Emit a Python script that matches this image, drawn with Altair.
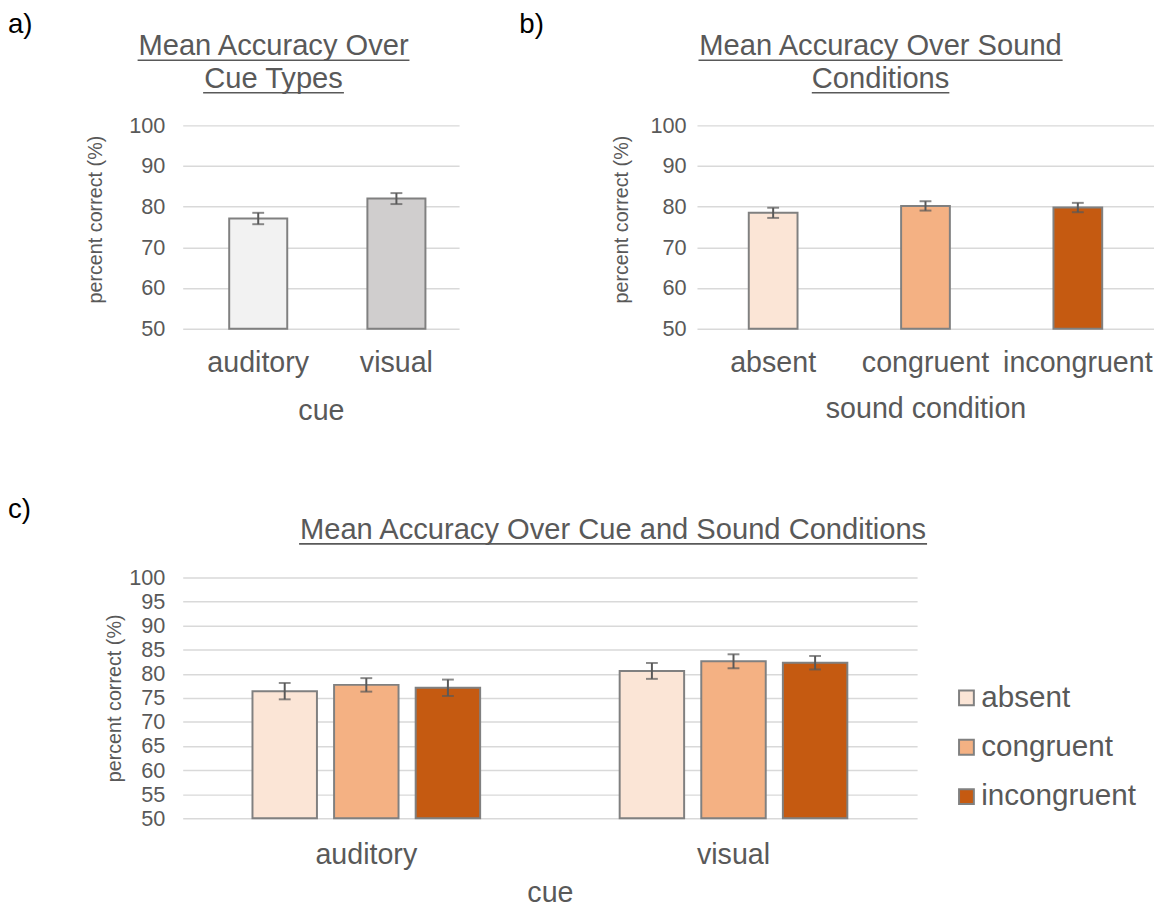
import altair as alt
import pandas as pd

FONT = "Liberation Sans"
TXT = "#595959"
GRID = "#D9D9D9"
EDGE = "#808080"
ERRC = "#595959"

# ---------------- data ----------------
cue_types = ["auditory", "visual"]
cue_means = [77.1, 82.0]
cue_errs = [1.4, 1.35]
cue_colors = ["#F2F2F2", "#D0CECE"]

sound_conds = ["absent", "congruent", "incongruent"]
sound_means = [78.5, 80.2, 79.8]
sound_errs = [1.25, 1.15, 1.15]
sound_colors = ["#FBE5D6", "#F4B183", "#C55A11"]

combo_cue = ["auditory", "auditory", "auditory", "visual", "visual", "visual"]
combo_sound = ["absent", "congruent", "incongruent", "absent", "congruent", "incongruent"]
combo_means = [76.4, 77.7, 77.1, 80.6, 82.6, 82.3]
combo_errs = [1.7, 1.4, 1.7, 1.65, 1.45, 1.4]

ticks_10 = [50, 60, 70, 80, 90, 100]
ticks_5 = [50, 55, 60, 65, 70, 75, 80, 85, 90, 95, 100]

# Arial / Liberation Sans advance widths (em) for underline lengths
ARIAL = {" ": .278, "M": .833, "e": .556, "a": .556, "n": .556, "A": .667, "c": .5,
         "u": .556, "r": .333, "y": .5, "O": .778, "v": .5, "C": .722, "T": .611,
         "p": .556, "s": .5, "S": .667, "o": .556, "d": .556, "i": .222, "t": .278}

TITLE_SIZE = 29.5


def tw(s, size):
    return sum(ARIAL.get(ch, 0.556) for ch in s) * size


def frame(cols):
    df = pd.DataFrame(cols)
    df["lo"] = df["mean"] - df["err"]
    df["hi"] = df["mean"] + df["err"]
    return df


dfa = frame({"cue": cue_types, "mean": cue_means, "err": cue_errs})
dfb = frame({"sound": sound_conds, "mean": sound_means, "err": sound_errs})
dfc = frame({"cue": combo_cue, "sound": combo_sound, "mean": combo_means, "err": combo_errs})


def title_layers(lines, cx, baselines, size=TITLE_SIZE):
    layers = []
    for line, yb in zip(lines, baselines):
        d = pd.DataFrame({"t": [line]})
        layers.append(
            alt.Chart(d).mark_text(font=FONT, fontSize=size, color=TXT, align="center",
                                   baseline="alphabetic")
            .encode(x=alt.value(cx), y=alt.value(yb), text="t:N"))
        w = tw(line, size)
        layers.append(
            alt.Chart(d).mark_rule(color=TXT, strokeWidth=1.6)
            .encode(x=alt.value(cx - w / 2), x2=alt.value(cx + w / 2), y=alt.value(yb + 5)))
    return layers


def letter(txt, x, y):
    d = pd.DataFrame({"t": [txt]})
    return alt.Chart(d).mark_text(font=FONT, fontSize=28, color="#000000", align="left",
                                  baseline="top").encode(x=alt.value(x), y=alt.value(y), text="t:N")


def yaxis(values, lp, tp, title_y=None):
    kw = {}
    if title_y is not None:
        kw["titleY"] = title_y
    return alt.Axis(values=values, title="percent correct (%)", titleFontSize=20, titleFont=FONT,
                    titleColor=TXT, titleFontWeight="normal", labelFontSize=22, labelFont=FONT,
                    labelColor=TXT, labelPadding=lp, titlePadding=tp, domain=False, ticks=False,
                    grid=True, gridColor=GRID, gridWidth=1.5, **kw)


def xaxis(title, lp, tp):
    return alt.Axis(title=title, labelAngle=0, labelFontSize=29, titleFontSize=29, labelFont=FONT,
                    titleFont=FONT, labelColor=TXT, titleColor=TXT, titleFontWeight="normal",
                    domain=False, ticks=False, grid=False, labelPadding=lp, titlePadding=tp,
                    labelLimit=0)


def bar_panel(df, xfield, xsort, xscale, xax, yax, colfield, colors, color_legend=None,
              xoff=None):
    def X():
        return alt.X(f"{xfield}:N", sort=xsort, scale=xscale, axis=xax)

    def Y(f):
        return alt.Y(f"{f}:Q", scale=alt.Scale(domain=[50, 100]), axis=yax)

    enc_extra = {}
    if xoff is not None:
        enc_extra["xOffset"] = xoff
    dom = sound_conds if colfield == "sound" else cue_types
    color = alt.Color(f"{colfield}:N", scale=alt.Scale(domain=dom, range=colors),
                      legend=color_legend)
    bars = alt.Chart(df).mark_bar(stroke=EDGE, strokeWidth=2).encode(
        x=X(), y=Y("mean"), y2=alt.datum(50), color=color, **enc_extra)
    rule = alt.Chart(df).mark_rule(color=ERRC, strokeWidth=2).encode(
        x=X(), y=Y("lo"), y2="hi:Q", **enc_extra)
    tlo = alt.Chart(df).mark_tick(color=ERRC, thickness=2, size=12).encode(
        x=X(), y=Y("lo"), **enc_extra)
    thi = alt.Chart(df).mark_tick(color=ERRC, thickness=2, size=12).encode(
        x=X(), y=Y("hi"), **enc_extra)
    return [bars, rule, tlo, thi]


# ---------------- panel a ----------------
A_W, A_H = 280, 206
layers_a = bar_panel(
    dfa, "cue", cue_types, alt.Scale(paddingInner=0.58, paddingOuter=0.29, align=0.58),
    xaxis("cue", 20, 20), yaxis(ticks_10, 18, 24, 95), "cue", cue_colors)
layers_a += title_layers(["Mean Accuracy Over", "Cue Types"], 92, [-71, -38])
layers_a.append(letter("a)", -177, -116))
chart_a = alt.layer(*layers_a).properties(width=A_W, height=A_H)

# ---------------- panel b ----------------
B_W, B_H = 463, 206
layers_b = bar_panel(
    dfb, "sound", sound_conds, alt.Scale(paddingInner=0.68, paddingOuter=0.34),
    xaxis("sound condition", 20, 18), yaxis(ticks_10, 11, 19, 95), "sound", sound_colors)
layers_b += title_layers(["Mean Accuracy Over Sound", "Conditions"], 186, [-71, -38])
layers_b.append(letter("b)", -180, -116))
chart_b = alt.layer(*layers_b).properties(width=B_W, height=B_H)

# ---------------- panel c ----------------
C_W, C_H = 744, 244
legend_c = alt.Legend(title=None, orient="none", legendX=779, legendY=107, labelFontSize=30,
                      labelFont=FONT, labelColor=TXT, symbolType="square", symbolSize=225,
                      symbolStrokeColor=EDGE, symbolStrokeWidth=2, symbolOpacity=1,
                      rowPadding=20, labelOffset=0, padding=0)
layers_c = bar_panel(
    dfc, "cue", cue_types, alt.Scale(paddingInner=0.38, paddingOuter=0.19),
    xaxis("cue", 23, 9), yaxis(ticks_5, 18, 4), "sound", sound_colors,
    color_legend=legend_c,
    xoff=alt.XOffset("sound:N", sort=sound_conds, scale=alt.Scale(paddingInner=0.21, paddingOuter=0)))
layers_c += title_layers(["Mean Accuracy Over Cue and Sound Conditions"], 436, [-39])
layers_c.append(letter("c)", -177, -82))
chart_c = alt.layer(*layers_c).properties(width=C_W, height=C_H)

top = alt.hconcat(chart_a, chart_b, spacing=61).resolve_scale(color="independent")
chart = (alt.vconcat(top, chart_c, spacing=72,
                     padding={"top": -3, "left": 0, "right": 0, "bottom": 0})
         .resolve_scale(color="independent")
         .configure(font=FONT)
         .configure_view(stroke="transparent", strokeWidth=0))

chart.save("out.html", embed_options={"renderer": "svg", "actions": False})
